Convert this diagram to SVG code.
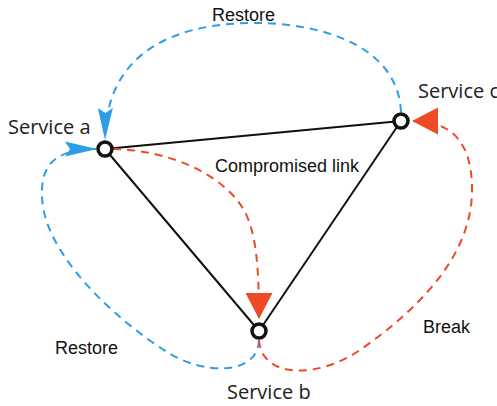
<svg xmlns="http://www.w3.org/2000/svg" width="497" height="406" viewBox="0 0 497 406">
  <style>
    .link { fill: none; stroke: #111; stroke-width: 2; }
    .restore { fill: none; stroke: #2e9de8; stroke-width: 2; stroke-dasharray: 8 6; }
    .break { fill: none; stroke: #ee4a26; stroke-width: 2; stroke-dasharray: 8 6; }
    .node { fill: #fff; stroke: #111; stroke-width: 3.5; }
    .svc { font-family: "Open Sans", "Noto Sans", sans-serif; font-size: 20px; fill: #222; }
    .lbl { font-family: "Liberation Sans", Arial, sans-serif; font-size: 18px; fill: #111; }
  </style>
  <defs>
    <marker id="arrowBlue" markerUnits="userSpaceOnUse" viewBox="-34 -10 36 20" refX="0" refY="0" markerWidth="36" markerHeight="20" orient="auto">
      <path d="M0,0 L-32,-7.5 L-27,0 L-32,7.5 Z" fill="#2e9de8"/>
    </marker>
    <marker id="arrowRed" markerUnits="userSpaceOnUse" viewBox="-28 -16 30 32" refX="0" refY="0" markerWidth="30" markerHeight="32" orient="auto">
      <path d="M0,0 L-26,-13.5 L-26,13.5 Z" fill="#ee4a26"/>
    </marker>
  </defs>

  <g id="connectors">
    <!-- solid triangle links -->
    <line class="link" x1="105" y1="149" x2="401" y2="121"/>
    <line class="link" x1="105" y1="149" x2="259" y2="331"/>
    <line class="link" x1="259" y1="331" x2="401" y2="121"/>
    <!-- restore paths -->
    <path class="restore" d="M401,112 C398,45 320,23 255,23 C170,23 106,55 105,140" marker-end="url(#arrowBlue)"/>
    <path class="restore" d="M259,340 C258,375 205,376 167,352 C110,316 42,250 42,195 C41,165 55,149 97,149" marker-end="url(#arrowBlue)"/>
    <!-- break paths -->
    <path class="break" d="M113,149 C170,150 225,175 245,212 C255,232 259,260 259,319" marker-end="url(#arrowRed)"/>
    <path class="break" d="M259,340 C262,380 320,378 360,350 C420,308 472,255 472,190 C472,140 450,121 412,121" marker-end="url(#arrowRed)"/>
  </g>

  <g id="service-a">
    <circle class="node" cx="105" cy="149" r="7"/>
    <text class="svc" x="8" y="134">Service a</text>
  </g>
  <g id="service-b">
    <circle class="node" cx="259" cy="331" r="7"/>
    <text class="svc" x="227" y="399">Service b</text>
  </g>
  <g id="service-c">
    <circle class="node" cx="401" cy="121" r="7"/>
    <text class="svc" x="418" y="98">Service c</text>
  </g>

  <g id="labels">
    <text class="lbl" x="212" y="21">Restore</text>
    <text class="lbl" x="215" y="172">Compromised link</text>
    <text class="lbl" x="55" y="354">Restore</text>
    <text class="lbl" x="423" y="333">Break</text>
  </g>
</svg>
